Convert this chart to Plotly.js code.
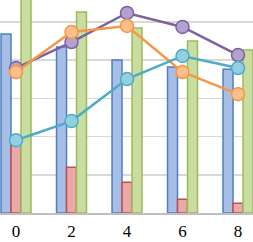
<!DOCTYPE html>
<html>
<head>
<meta charset="utf-8">
<script src="https://cdn.plot.ly/plotly-3.0.1.min.js"></script>
<style>html,body{margin:0;padding:0;background:#fff;}#chart{width:253px;height:242px;}</style>
</head>
<body>
<div id="chart"></div>
<script>
const categories = [0, 2, 4, 6, 8];
const tickLabels = ["0", "2", "4", "6", "8"];
const barBlue = [93.7, 86.9, 80.1, 76.4, 75.3];
const barRed = [35.5, 24.0, 16.1, 7.2, 5.1];
const barGreen = [118, 105.2, 96.9, 90.0, 85.3];
const linePurple = [75.9, 89.5, 104.7, 97.4, 82.7];
const lineOrange = [73.8, 94.8, 97.9, 73.8, 62.2];
const lineTeal = [38.1, 48.1, 70.1, 82.2, 75.9];

function bar(y, fill, edge) {
  return {type: 'bar', x: categories, y: y, marker: {color: fill, line: {color: edge, width: 1.5}}, hoverinfo: 'skip'};
}
function line(y, col, mfill) {
  return {type: 'scatter', mode: 'lines+markers', x: categories, y: y,
    line: {color: col, width: 2.5},
    marker: {size: 13, color: mfill, line: {color: col, width: 1.5}}, cliponaxis: false};
}
const data = [
  bar(barBlue, '#a7bee6', '#4f7fc0'),
  bar(barRed, '#eaa9a8', '#c0504d'),
  bar(barGreen, '#c9dca1', '#9bbb59'),
  line(linePurple, '#7b62a0', '#b3a2cf'),
  line(lineOrange, '#f79646', '#fbbe8c'),
  line(lineTeal, '#4bacc6', '#93cfe0')
];
const layout = {
  width: 253, height: 242,
  margin: {l: 0, r: 0, t: 0, b: 29, pad: 0},
  paper_bgcolor: '#ffffff', plot_bgcolor: '#ffffff',
  showlegend: false,
  barmode: 'group', bargap: 0.46, bargroupgap: 0,
  xaxis: {range: [-0.577, 8.54], tickvals: categories, ticktext: tickLabels,
    showgrid: false, zeroline: false, showline: true, linecolor: '#bfbfbf', linewidth: 2,
    ticks: '', tickfont: {family: 'Liberation Serif', size: 17, color: '#000'}, ticklabelstandoff: 2},
  yaxis: {range: [0, 111.5], dtick: 20, showticklabels: false, showgrid: true,
    gridcolor: '#d9d9d9', gridwidth: 1.5, zeroline: false, ticks: ''}
};
Plotly.newPlot('chart', data, layout, {staticPlot: true, displayModeBar: false});
</script>
</body>
</html>
